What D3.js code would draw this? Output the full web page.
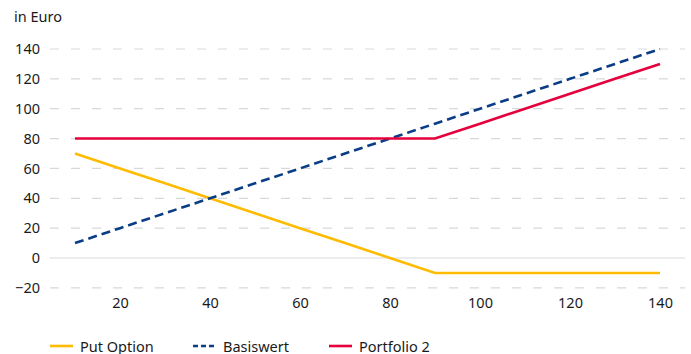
<!DOCTYPE html>
<html>
<head>
<meta charset="utf-8">
<script src="https://cdn.jsdelivr.net/npm/d3@7"></script>
<style>
  html, body { margin: 0; padding: 0; background: #fff; }
  svg { display: block; font-family: "Noto Sans", Lato, sans-serif; }
</style>
</head>
<body>
<svg id="chart" width="691" height="354"></svg>
<script>
// Underlying price at expiry (x axis)
const prices = [10, 20, 30, 40, 50, 60, 70, 80, 90, 100, 110, 120, 130, 140];
// Profit / value in Euro for each series
const putOption = [70, 60, 50, 40, 30, 20, 10, 0, -10, -10, -10, -10, -10, -10];
const basiswert = [10, 20, 30, 40, 50, 60, 70, 80, 90, 100, 110, 120, 130, 140];
const portfolio2 = [80, 80, 80, 80, 80, 80, 80, 80, 80, 90, 100, 110, 120, 130];

const xTicks = [20, 40, 60, 80, 100, 120, 140];
const yTicks = [-20, 0, 20, 40, 60, 80, 100, 120, 140];

const seriesNames = ["Put Option", "Basiswert", "Portfolio 2"];
const seriesColors = ["#ffbb00", "#0a3d86", "#e5003d"];
const seriesDash = [null, "9,5", null];
const seriesValues = [putOption, basiswert, portfolio2];

const svg = d3.select("#chart");

const x = d3.scaleLinear().domain([20, 140]).range([120, 660]);
const y = d3.scaleLinear().domain([0, 140]).range([258, 49]);

// Horizontal grid lines (zero line solid)
svg.append("g")
  .selectAll("line")
  .data(yTicks)
  .join("line")
  .attr("x1", 50)
  .attr("x2", 685)
  .attr("y1", d => y(d))
  .attr("y2", d => y(d))
  .attr("stroke", "#d5d9dd")
  .attr("stroke-width", 1.2)
  .attr("stroke-dasharray", d => d === 0 ? null : "9,12");

// Y axis tick labels
const yAxis = d3.axisLeft(y).tickValues(yTicks).tickSize(0).tickPadding(0)
  .tickFormat(d => d < 0 ? "\u2212" + Math.abs(d) : d);
svg.append("g")
  .attr("transform", "translate(40,0)")
  .call(yAxis)
  .call(g => g.select(".domain").remove())
  .call(g => g.selectAll("text")
    .attr("font-size", 14.5)
    .attr("fill", "#1a1a1a")
    .attr("font-family", "'Noto Sans', Lato, sans-serif"));

// X axis tick labels
const xAxis = d3.axisBottom(x).tickValues(xTicks).tickSize(0).tickPadding(0);
svg.append("g")
  .attr("transform", "translate(0,298)")
  .call(xAxis)
  .call(g => g.select(".domain").remove())
  .call(g => g.selectAll("text")
    .attr("font-size", 14.5)
    .attr("fill", "#1a1a1a")
    .attr("font-family", "'Noto Sans', Lato, sans-serif"));

// Unit label
svg.append("text")
  .attr("x", 14)
  .attr("y", 22)
  .attr("font-size", 14.5)
  .attr("fill", "#1a1a1a")
  .text("in Euro");

// Series lines
const line = d3.line()
  .x((d, i) => x(prices[i]))
  .y(d => y(d));

seriesValues.forEach((vals, k) => {
  svg.append("path")
    .datum(vals)
    .attr("fill", "none")
    .attr("stroke", seriesColors[k])
    .attr("stroke-width", 2.6)
    .attr("stroke-dasharray", seriesDash[k])
    .attr("d", line);
});

// Legend
const legendX = [50, 193, 329];
const legend = svg.append("g").attr("transform", "translate(0,346)");
seriesNames.forEach((name, k) => {
  legend.append("line")
    .attr("x1", legendX[k])
    .attr("x2", legendX[k] + 23)
    .attr("y1", 0)
    .attr("y2", 0)
    .attr("stroke", seriesColors[k])
    .attr("stroke-width", 2.6)
    .attr("stroke-dasharray", seriesDash[k] ? "5,3" : null);
  legend.append("text")
    .attr("x", legendX[k] + 30)
    .attr("y", 5.5)
    .attr("font-size", 14.5)
    .attr("fill", "#1a1a1a")
    .text(name);
});
</script>
</body>
</html>
